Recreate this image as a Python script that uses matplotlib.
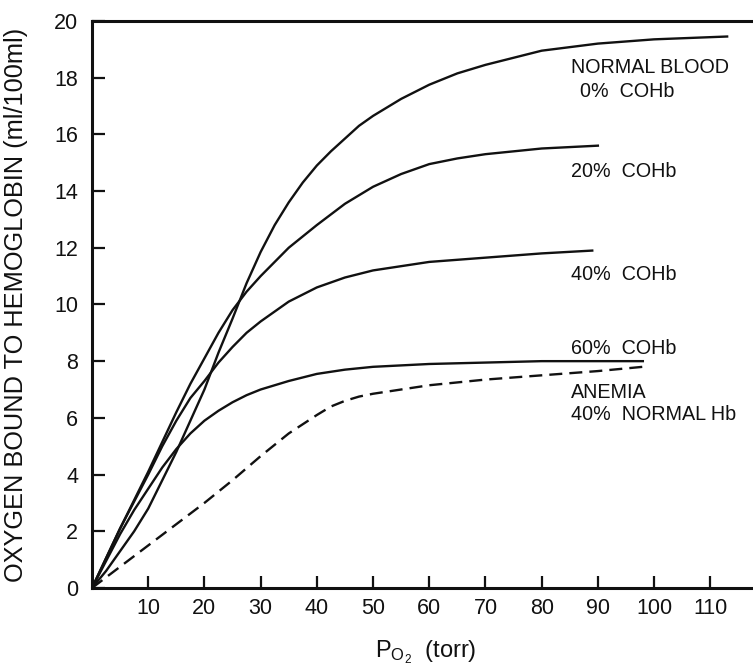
import matplotlib
matplotlib.use("Agg")
import matplotlib.pyplot as plt

plt.rcParams['font.family'] = ['Liberation Sans', 'DejaVu Sans']

# PO2 (torr) and O2 bound to hemoglobin (ml/100ml)
normal_x = [0, 2.5, 5, 7.5, 10, 12.5, 15, 17.5, 20, 22.5, 25, 27.5, 30, 32.5, 35, 37.5, 40,
            42.5, 45, 47.5, 50, 55, 60, 65, 70, 75, 80, 90, 100, 113]
normal_y = [0, 0.6, 1.3, 2.0, 2.8, 3.8, 4.8, 5.9, 7.0, 8.3, 9.5, 10.75, 11.85, 12.8, 13.6, 14.3, 14.9,
            15.4, 15.85, 16.3, 16.65, 17.25, 17.75, 18.15, 18.45, 18.7, 18.95, 19.2, 19.35, 19.45]

coh20_x = [0, 2.5, 5, 7.5, 10, 12.5, 15, 17.5, 20, 22.5, 25, 27.5, 30, 35, 40, 45, 50, 55, 60,
           65, 70, 80, 90]
coh20_y = [0, 1.05, 2.1, 3.1, 4.1, 5.15, 6.2, 7.2, 8.1, 9.0, 9.8, 10.45, 11.0, 12.0, 12.8, 13.55,
           14.15, 14.6, 14.95, 15.15, 15.3, 15.5, 15.6]

coh40_x = [0, 2.5, 5, 7.5, 10, 12.5, 15, 17.5, 20, 22.5, 25, 27.5, 30, 35, 40, 45, 50, 60, 70, 80, 89]
coh40_y = [0, 1.05, 2.1, 3.05, 4.0, 5.0, 5.9, 6.7, 7.3, 7.95, 8.5, 9.0, 9.4, 10.1, 10.6, 10.95, 11.2,
           11.5, 11.65, 11.8, 11.9]

coh60_x = [0, 2.5, 5, 7.5, 10, 12.5, 15, 17.5, 20, 22.5, 25, 27.5, 30, 35, 40, 45, 50, 60, 70, 80, 98]
coh60_y = [0, 0.95, 1.9, 2.75, 3.5, 4.25, 4.9, 5.45, 5.9, 6.25, 6.55, 6.8, 7.0, 7.3, 7.55, 7.7, 7.8,
           7.9, 7.95, 8.0, 8.0]

anemia_x = [0, 5, 10, 15, 20, 25, 30, 35, 40, 42.5, 45, 47.5, 50, 60, 70, 80, 90, 98]
anemia_y = [0, 0.75, 1.5, 2.25, 3.0, 3.8, 4.65, 5.45, 6.1, 6.4, 6.6, 6.75, 6.85, 7.15, 7.35, 7.5,
            7.65, 7.8]

x_ticks = [10, 20, 30, 40, 50, 60, 70, 80, 90, 100, 110]
y_ticks = [0, 2, 4, 6, 8, 10, 12, 14, 16, 18, 20]

fig = plt.figure(figsize=(7.53, 6.64), dpi=100)
ax = fig.add_axes([0.1222, 0.1145, 0.8778, 0.854])

ink = '#111111'
lw = 1.7
ax.plot(normal_x, normal_y, color=ink, lw=lw)
ax.plot(coh20_x, coh20_y, color=ink, lw=lw)
ax.plot(coh40_x, coh40_y, color=ink, lw=lw)
ax.plot(coh60_x, coh60_y, color=ink, lw=lw)
ax.plot(anemia_x, anemia_y, color=ink, lw=lw, dashes=(5.5, 3))

fs = 14.2
ax.text(85.2, 18.17, 'NORMAL BLOOD', fontsize=fs, va='baseline', color=ink)
ax.text(86.8, 17.32, '0%  COHb', fontsize=fs, va='baseline', color=ink)
ax.text(85.2, 14.5, '20%  COHb', fontsize=fs, va='baseline', color=ink)
ax.text(85.2, 10.86, '40%  COHb', fontsize=fs, va='baseline', color=ink)
ax.text(85.2, 8.25, '60%  COHb', fontsize=fs, va='baseline', color=ink)
ax.text(85.2, 6.70, 'ANEMIA', fontsize=fs, va='baseline', color=ink)
ax.text(85.2, 5.93, '40%  NORMAL Hb', fontsize=fs, va='baseline', color=ink)

ax.set_xlim(0, 117.6)
ax.set_ylim(0, 20)
ax.set_xticks(x_ticks)
ax.set_yticks(y_ticks)
ax.tick_params(direction='in', length=9, width=1.6, labelsize=15.5, colors=ink)
ax.tick_params(axis='x', pad=7)
ax.tick_params(axis='y', pad=10)

for side in ['left', 'top', 'bottom']:
    ax.spines[side].set_linewidth(2.2)
    ax.spines[side].set_color(ink)
ax.spines['right'].set_visible(False)

ax.set_ylabel('OXYGEN BOUND TO HEMOGLOBIN (ml/100ml)', fontsize=18.3, color=ink)
ax.yaxis.set_label_coords(-0.097, 0.5)
ax.set_xlabel(r'$\mathregular{P_{O_2}}$  (torr)', fontsize=17, color=ink)
ax.xaxis.set_label_coords(0.505, -0.088)

fig.savefig('out.png', dpi=100)
